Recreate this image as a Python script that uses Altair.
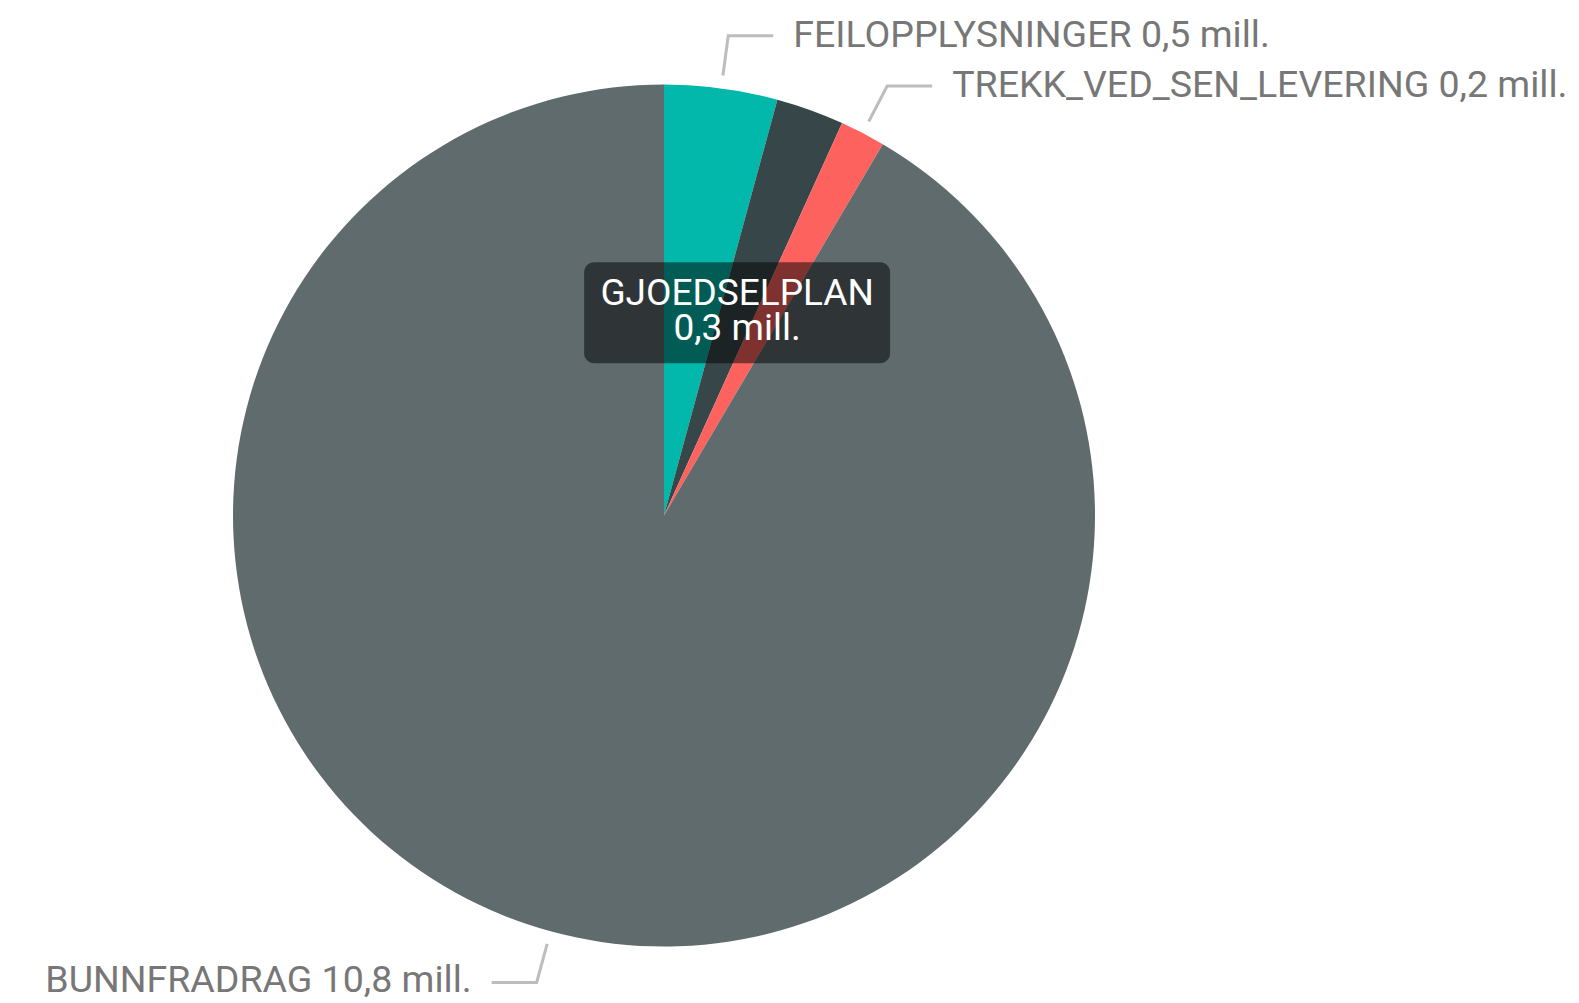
import math
import altair as alt
import pandas as pd

# ---- data ----
categories = ["FEILOPPLYSNINGER", "GJOEDSELPLAN", "TREKK_VED_SEN_LEVERING", "BUNNFRADRAG"]
values = [0.5, 0.3, 0.2, 10.8]
colors = ["#01B8AA", "#374649", "#FD625E", "#5F6B6D"]
outside_label = [True, False, True, True]   # GJOEDSELPLAN is shown as hover box
hover_category = "GJOEDSELPLAN"

# ---- layout ----
W, H = 1563, 994
CX, CY = 656, 507.5
R = 431
FONT = "Roboto"
FS = 37.5


def fmt(v):
    return f"{v:.1f}".replace(".", ",") + " mill."


total = sum(values)
rows, line_rows, text_rows = [], [], []
cum = 0.0
mids = {}
for i, (c, v) in enumerate(zip(categories, values)):
    start = cum / total * 2 * math.pi
    cum += v
    end = cum / total * 2 * math.pi
    mid = (start + end) / 2
    mids[c] = mid
    rows.append({"cat": c, "val": v, "idx": i})
    if outside_label[i]:
        s, co = math.sin(mid), math.cos(mid)
        side = 1 if s >= 0 else -1
        p1 = (CX + (R + 13) * s, CY - (R + 13) * co)
        p2 = (CX + (R + 53) * s, CY - (R + 53) * co)
        p3 = (p2[0] + side * 45, p2[1])
        for k, p in enumerate([p1, p2, p3]):
            line_rows.append({"cat": c, "step": k, "x": p[0], "y": p[1]})
        text_rows.append({"cat": c, "x": p3[0] + side * 20, "y": p3[1],
                          "label": f"{c} {fmt(v)}",
                          "align": "left" if side > 0 else "right"})

df = pd.DataFrame(rows)
lines = pd.DataFrame(line_rows)
texts = pd.DataFrame(text_rows)

hm = mids[hover_category]
hx = CX + (R / 2) * math.sin(hm)
hy = CY - (R / 2) * math.cos(hm)
hover = pd.DataFrame([{
    "x": hx - 153, "x2": hx + 153, "y": hy - 50.5, "y2": hy + 50.5,
    "cx": hx, "cy": hy,
    "label": hover_category + "\n" + fmt(values[categories.index(hover_category)]),
}])

xs = alt.Scale(domain=[0, W], range=[0, W])
ys = alt.Scale(domain=[0, H], range=[0, H])

pie = alt.Chart(df).mark_arc(outerRadius=R).encode(
    theta=alt.Theta("val:Q", stack=True),
    order=alt.Order("idx:Q"),
    color=alt.Color("cat:N", scale=alt.Scale(domain=categories, range=colors), legend=None),
    x=alt.value(CX),
    y=alt.value(CY),
)

leader = alt.Chart(lines).mark_line(color="#BDBDBD", strokeWidth=3).encode(
    x=alt.X("x:Q", scale=xs, axis=None),
    y=alt.Y("y:Q", scale=ys, axis=None),
    detail="cat:N",
    order="step:Q",
)

left_texts = alt.Chart(texts[texts["align"] == "left"]).mark_text(
    align="left", baseline="middle", font=FONT, fontSize=FS, color="#777777"
).encode(
    x=alt.X("x:Q", scale=xs, axis=None),
    y=alt.Y("y:Q", scale=ys, axis=None),
    text="label:N",
)

right_texts = alt.Chart(texts[texts["align"] == "right"]).mark_text(
    align="right", baseline="middle", font=FONT, fontSize=FS, color="#777777", dy=-1
).encode(
    x=alt.X("x:Q", scale=xs, axis=None),
    y=alt.Y("y:Q", scale=ys, axis=None),
    text="label:N",
)

box = alt.Chart(hover).mark_rect(color="black", opacity=0.5, cornerRadius=10).encode(
    x=alt.X("x:Q", scale=xs, axis=None),
    x2="x2:Q",
    y=alt.Y("y:Q", scale=ys, axis=None),
    y2="y2:Q",
)

box_text = alt.Chart(hover).mark_text(
    align="center", baseline="middle", font=FONT, fontSize=37, color="white",
    lineBreak="\n", lineHeight=35, dy=-19,
).encode(
    x=alt.X("cx:Q", scale=xs, axis=None),
    y=alt.Y("cy:Q", scale=ys, axis=None),
    text="label:N",
)

chart = alt.layer(pie, leader, left_texts, right_texts, box, box_text).properties(
    width=W, height=H, padding=0, autosize=alt.AutoSizeParams(type="none"),
).configure_view(stroke=None)

chart.save("out.html", embed_options={"renderer": "svg", "actions": False})
